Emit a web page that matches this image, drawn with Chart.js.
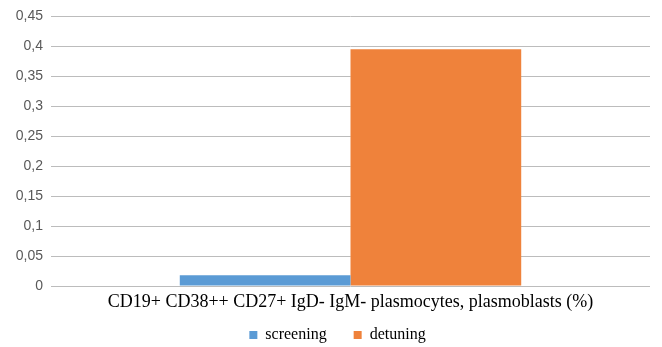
<!DOCTYPE html>
<html>
<head>
<meta charset="utf-8">
<script src="https://cdn.jsdelivr.net/npm/chart.js@4/dist/chart.umd.min.js"></script>
<style>
  html, body { margin: 0; padding: 0; background: #fff; }
  #wrap { width: 662px; height: 347px; }
</style>
</head>
<body>
<div id="wrap"><canvas id="c"></canvas></div>
<script>
const categories = ['CD19+ CD38++ CD27+ IgD- IgM- plasmocytes, plasmoblasts (%)'];
const seriesNames = ['screening', 'detuning'];
const screeningValues = [0.018];
const detuningValues = [0.395];
const yTicks = [0, 0.05, 0.1, 0.15, 0.2, 0.25, 0.3, 0.35, 0.4, 0.45];

// decimal comma for the value axis
const fmt = v => String(Math.round(v * 100) / 100).replace('.', ',');

// nudge the legend row: a little right and up, closer to the category label
const legendNudge = {
  id: 'legendNudge',
  afterLayout(chart) {
    const lg = chart.legend;
    if (!lg) return;
    lg.left += 25;
    lg.top -= 16;
    lg.bottom -= 16;
  }
};

new Chart(document.getElementById('c'), {
  type: 'bar',
  data: {
    labels: categories,
    datasets: [
      { label: seriesNames[0], data: screeningValues, backgroundColor: '#5b9bd5' },
      { label: seriesNames[1], data: detuningValues, backgroundColor: '#ef823b' }
    ]
  },
  plugins: [legendNudge],
  options: {
    responsive: true,
    maintainAspectRatio: false,
    animation: false,
    layout: { padding: { top: 10, right: 12, left: 0, bottom: -22 } },
    datasets: { bar: { categoryPercentage: 0.57, barPercentage: 1.0 } },
    plugins: {
      tooltip: { enabled: false },
      legend: {
        position: 'bottom',
        labels: {
          boxWidth: 8,
          boxHeight: 8,
          padding: 27,
          color: '#000',
          font: { family: '"Liberation Serif", serif', size: 16 }
        }
      }
    },
    scales: {
      x: {
        grid: { display: false, drawTicks: false },
        border: { display: false },
        afterFit: s => { s.height = 30; },
        ticks: {
          color: '#000',
          padding: 5,
          font: { family: '"Liberation Serif", serif', size: 18 }
        }
      },
      y: {
        min: 0,
        max: 0.45,
        afterBuildTicks: axis => { axis.ticks = yTicks.map(v => ({ value: v })); },
        afterFit: s => { s.width = 51; },
        grid: { color: '#bcbcbc', lineWidth: 1, drawTicks: false },
        border: { display: false },
        ticks: {
          color: '#595959',
          padding: 8,
          font: { family: '"Liberation Sans", sans-serif', size: 14 },
          callback: v => fmt(v)
        }
      }
    }
  }
});
</script>
</body>
</html>
